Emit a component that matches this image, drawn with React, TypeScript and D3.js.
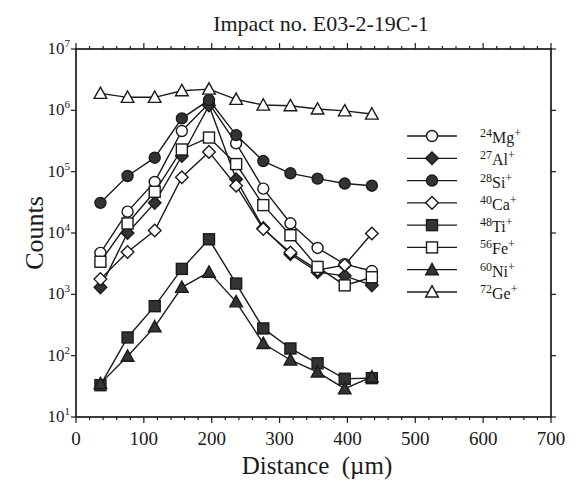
import React from 'react';
import * as d3 from 'd3';

// distances (µm) where the spots were measured
const distances = [36, 76, 116, 156, 196, 236, 276, 316, 356, 396, 436];

const mg = [4750, 22300, 68000, 460000, 1300000, 290000, 53000, 14400, 5700, 3100, 2400];
const al = [1300, 10000, 31000, 180000, 1200000, 75000, 12000, 4500, 2300, 2000, 1400];
const si = [31000, 85000, 169000, 740000, 1470000, 395000, 149000, 94000, 77000, 64000, 59000];
const ca = [1770, 4900, 11000, 81000, 210000, 59000, 11600, 4800, 2500, 3000, 9800];
const ti = [33, 198, 641, 2600, 7900, 1500, 278, 131, 75, 42, 43];
const fe = [3400, 14300, 47000, 230000, 360000, 133000, 28500, 9200, 2800, 1400, 1900];
const ni = [35, 98, 295, 1300, 2300, 755, 158, 85, 54, 29, 45];
const ge = [1890000, 1630000, 1630000, 2090000, 2220000, 1510000, 1220000, 1190000, 1050000, 980000, 870000];

const seriesNames = ['Mg', 'Al', 'Si', 'Ca', 'Ti', 'Fe', 'Ni', 'Ge'];
const masses = ['24', '27', '28', '40', '48', '56', '60', '72'];
const markers = ['circle', 'diamond', 'circle', 'diamond', 'square', 'square', 'triangle', 'triangle'];
const filled = [false, true, true, false, true, false, true, false];
const seriesValues = [mg, al, si, ca, ti, fe, ni, ge];

const xTicks = [0, 100, 200, 300, 400, 500, 600, 700];
const yExponents = [1, 2, 3, 4, 5, 6, 7];

const W = 580;
const H = 481;
const margin = { left: 76, right: 29, top: 49, bottom: 64 };
const font = '"Liberation Serif", "Times New Roman", serif';
const ink = '#1a1a1a';

function Marker({ kind, cx, cy, fill }: { kind: string; cx: number; cy: number; fill: boolean }) {
  const f = fill ? '#333' : '#fff';
  const common = { fill: f, stroke: ink, strokeWidth: 1.4 };
  if (kind === 'circle') return <circle cx={cx} cy={cy} r={5.5} {...common} />;
  if (kind === 'square') return <rect x={cx - 5.5} y={cy - 5.5} width={11} height={11} {...common} />;
  if (kind === 'diamond') {
    const s = 6.3;
    return <path d={`M${cx},${cy - s}L${cx + s},${cy}L${cx},${cy + s}L${cx - s},${cy}Z`} {...common} />;
  }
  const s = 6.3;
  return <path d={`M${cx},${cy - s}L${cx + s},${cy + s * 0.8}L${cx - s},${cy + s * 0.8}Z`} {...common} />;
}

export default function App() {
  const x = d3.scaleLinear().domain([0, 700]).range([margin.left, W - margin.right]);
  const y = d3.scaleLog().domain([10, 1e7]).range([H - margin.bottom, margin.top]);

  const line = d3.line<number>()
    .x((_, i) => x(distances[i]))
    .y(d => y(d));

  const x0 = x(0), x1 = x(700), y0 = y(10), y1 = y(1e7);
  const minorX = d3.range(0, 701, 20);

  const legendY = d3.scaleLinear().domain([0, 7]).range([136, 292]);

  return (
    <svg width={W} height={H} style={{ position: 'absolute', left: 0, top: 0, background: '#fff' }}
      fontFamily={font}>
      {/* title */}
      <text x={321} y={31} textAnchor="middle" fontSize={22} fill={ink}>Impact no. E03-2-19C-1</text>

      {/* frame */}
      <rect x={x0} y={y1} width={x1 - x0} height={y0 - y1} fill="none" stroke={ink} strokeWidth={1.7} />

      {/* x ticks, bottom and top, pointing outward */}
      {minorX.map(v => {
        const major = v % 100 === 0;
        const len = major ? 6 : 3;
        return (
          <g key={v} stroke={ink} strokeWidth={1.2}>
            <line x1={x(v)} x2={x(v)} y1={y0} y2={y0 + len} />
            <line x1={x(v)} x2={x(v)} y1={y1} y2={y1 - len} />
          </g>
        );
      })}
      {xTicks.map(v => (
        <text key={v} x={x(v)} y={445} textAnchor="middle" fontSize={19} fill={ink}>{v}</text>
      ))}

      {/* y ticks */}
      {yExponents.map(e => (
        <g key={e}>
          <line x1={x0 - 5} x2={x0} y1={y(10 ** e)} y2={y(10 ** e)} stroke={ink} strokeWidth={1.2} />
          <line x1={x1} x2={x1 + 5} y1={y(10 ** e)} y2={y(10 ** e)} stroke={ink} strokeWidth={1.2} />
          <text x={x0 - 6} y={y(10 ** e) + 5} textAnchor="end" fontSize={17} fill={ink}>
            10<tspan fontSize={11} dy={-7}>{e}</tspan>
          </text>
        </g>
      ))}

      {/* axis titles */}
      <text transform={`translate(43,${(y0 + y1) / 2}) rotate(-90)`} textAnchor="middle" fontSize={26} fill={ink}>Counts</text>
      <text x={317} y={474} textAnchor="middle" fontSize={25} fill={ink} xmlSpace="preserve">Distance  (µm)</text>

      {/* series */}
      {seriesValues.map((vals, s) => (
        <g key={seriesNames[s]}>
          <path d={line(vals) || ''} fill="none" stroke={ink} strokeWidth={1.4} />
          {vals.map((v, i) => (
            <Marker key={i} kind={markers[s]} cx={x(distances[i])} cy={y(v)} fill={filled[s]} />
          ))}
        </g>
      ))}

      {/* legend */}
      {seriesNames.map((n, s) => {
        const ly = legendY(s);
        return (
          <g key={n}>
            <line x1={407} x2={457} y1={ly} y2={ly} stroke={ink} strokeWidth={1.3} />
            <Marker kind={markers[s]} cx={432} cy={ly} fill={filled[s]} />
            <text x={480} y={ly + 7} fontSize={16} fill={ink}>
              <tspan fontSize={12} dy={-6}>{masses[s]}</tspan>
              <tspan dy={6}>{n}</tspan>
              <tspan fontSize={12} dy={-6}>+</tspan>
            </text>
          </g>
        );
      })}
    </svg>
  );
}
